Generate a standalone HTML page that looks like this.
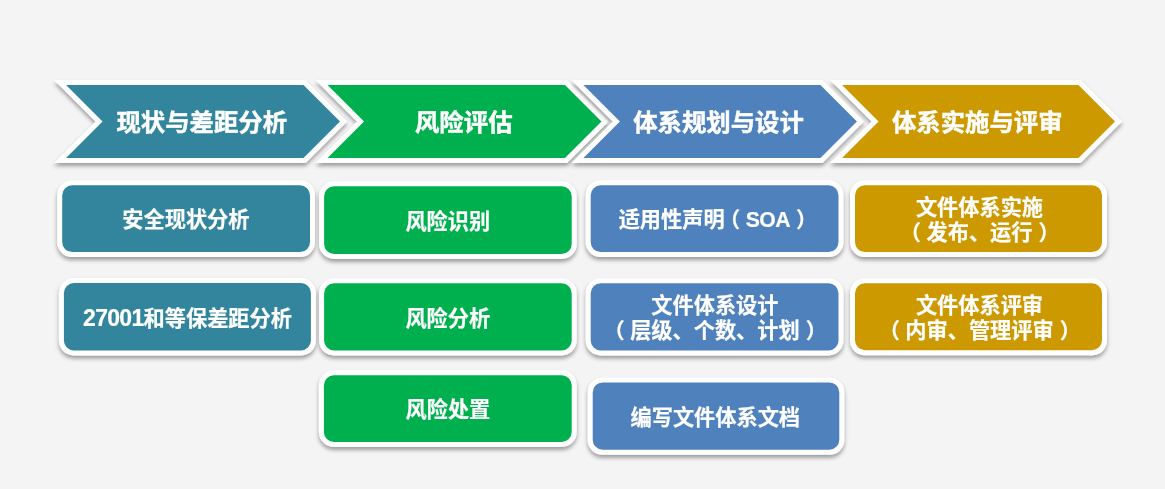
<!DOCTYPE html>
<html lang="zh-CN">
<head>
<meta charset="utf-8">
<title>信息安全管理体系建设流程</title>
<style>
html,body{margin:0;padding:0;background:#f4f4f4;}
body{width:1165px;height:489px;overflow:hidden;position:relative;font-family:"Liberation Sans", "Noto Sans CJK SC", sans-serif;}
svg{position:absolute;left:0;top:0;display:block;}
.t{position:absolute;will-change:transform;color:#fff;font-weight:bold;text-align:center;white-space:nowrap;font-family:"Liberation Sans", "Noto Sans CJK SC", sans-serif;}
.h{-webkit-text-stroke:0.45px #fff;font-size:24.4px;line-height:30px;height:30px;}
.b{-webkit-text-stroke:0.2px #fff;font-size:21.2px;line-height:25.0px;}
.n{font-size:23px;letter-spacing:-0.7px;}
.l{letter-spacing:-0.6px;}
.pl{position:relative;left:-5.5px;}
.pr{position:relative;left:6px;}
</style>
</head>
<body>
<svg width="1165" height="489" viewBox="0 0 1165 489">
<defs>
<filter id="sh" x="-10%" y="-20%" width="120%" height="150%">
<feGaussianBlur in="SourceAlpha" stdDeviation="2"/>
<feOffset dx="0" dy="2.5" result="o"/>
<feComponentTransfer><feFuncA type="linear" slope="0.37"/></feComponentTransfer>
<feMerge result="m"><feMergeNode/><feMergeNode in="SourceGraphic"/></feMerge>
<feGaussianBlur in="m" stdDeviation="0.4"/>
</filter>
</defs>
<rect width="1165" height="489" fill="#f4f4f4"/>
<g filter="url(#sh)"><path d="M60.00,82.50 L304.50,82.50 L343.50,121.50 L304.50,160.50 L60.00,160.50 L99.00,121.50 Z" fill="#31859c" stroke="#fff" stroke-width="5" stroke-linejoin="miter" stroke-miterlimit="10"/></g>
<g filter="url(#sh)"><path d="M321.50,82.50 L566.00,82.50 L605.00,121.50 L566.00,160.50 L321.50,160.50 L360.50,121.50 Z" fill="#00b050" stroke="#fff" stroke-width="5" stroke-linejoin="miter" stroke-miterlimit="10"/></g>
<g filter="url(#sh)"><path d="M577.40,82.50 L821.40,82.50 L860.40,121.50 L821.40,160.50 L577.40,160.50 L616.40,121.50 Z" fill="#4f81bd" stroke="#fff" stroke-width="5" stroke-linejoin="miter" stroke-miterlimit="10"/></g>
<g filter="url(#sh)"><path d="M836.00,82.50 L1079.50,82.50 L1118.50,121.50 L1079.50,160.50 L836.00,160.50 L875.00,121.50 Z" fill="#cc9900" stroke="#fff" stroke-width="5" stroke-linejoin="miter" stroke-miterlimit="10"/></g>
<g filter="url(#sh)"><rect x="59.70" y="182.70" width="252.80" height="71.90" rx="12.5" ry="12.5" fill="#31859c" stroke="#fff" stroke-width="5"/></g>
<g filter="url(#sh)"><rect x="61.40" y="280.50" width="252.00" height="72.40" rx="12.5" ry="12.5" fill="#31859c" stroke="#fff" stroke-width="5"/></g>
<g filter="url(#sh)"><rect x="321.60" y="183.80" width="252.60" height="72.60" rx="12.5" ry="12.5" fill="#00b050" stroke="#fff" stroke-width="5"/></g>
<g filter="url(#sh)"><rect x="321.60" y="280.70" width="252.60" height="72.30" rx="12.5" ry="12.5" fill="#00b050" stroke="#fff" stroke-width="5"/></g>
<g filter="url(#sh)"><rect x="321.40" y="372.70" width="252.80" height="71.80" rx="12.5" ry="12.5" fill="#00b050" stroke="#fff" stroke-width="5"/></g>
<g filter="url(#sh)"><rect x="588.20" y="182.70" width="252.80" height="71.90" rx="12.5" ry="12.5" fill="#4f81bd" stroke="#fff" stroke-width="5"/></g>
<g filter="url(#sh)"><rect x="588.20" y="280.70" width="252.80" height="72.20" rx="12.5" ry="12.5" fill="#4f81bd" stroke="#fff" stroke-width="5"/></g>
<g filter="url(#sh)"><rect x="590.20" y="379.90" width="251.60" height="72.40" rx="12.5" ry="12.5" fill="#4f81bd" stroke="#fff" stroke-width="5"/></g>
<g filter="url(#sh)"><rect x="852.50" y="182.70" width="252.00" height="71.90" rx="12.5" ry="12.5" fill="#cc9900" stroke="#fff" stroke-width="5"/></g>
<g filter="url(#sh)"><rect x="852.50" y="280.70" width="252.00" height="72.10" rx="12.5" ry="12.5" fill="#cc9900" stroke="#fff" stroke-width="5"/></g>
</svg>
<div class="t h" style="left:60.00px;width:283.50px;top:108.30px">现状与差距分析</div>
<div class="t h" style="left:321.50px;width:283.50px;top:108.30px">风险评估</div>
<div class="t h" style="left:577.40px;width:283.00px;top:108.30px">体系规划与设计</div>
<div class="t h" style="left:836.00px;width:282.50px;top:108.30px">体系实施与评审</div>
<div class="t b" style="left:57.20px;width:257.80px;top:207.45px">安全现状分析</div>
<div class="t b" style="left:58.90px;width:257.00px;top:305.50px"><span class="n">27001</span>和等保差距分析</div>
<div class="t b" style="left:319.10px;width:257.60px;top:208.90px">风险识别</div>
<div class="t b" style="left:319.10px;width:257.60px;top:305.65px">风险分析</div>
<div class="t b" style="left:318.90px;width:257.80px;top:397.40px">风险处置</div>
<div class="t b" style="left:585.70px;width:257.80px;top:207.45px">适用性声明<span class="pl">（</span><span class="l">SOA</span><span class="pr">）</span></div>
<div class="t b" style="left:585.70px;width:257.80px;top:293.10px">文件体系设计<br><span class="pl">（</span>层级、个数、计划<span class="pr">）</span></div>
<div class="t b" style="left:586.90px;width:256.60px;top:404.90px">编写文件体系文档</div>
<div class="t b" style="left:851.00px;width:257.00px;top:194.95px">文件体系实施<br><span class="pl">（</span>发布、运行<span class="pr">）</span></div>
<div class="t b" style="left:851.00px;width:257.00px;top:293.05px">文件体系评审<br><span class="pl">（</span>内审、管理评审<span class="pr">）</span></div>
</body>
</html>
